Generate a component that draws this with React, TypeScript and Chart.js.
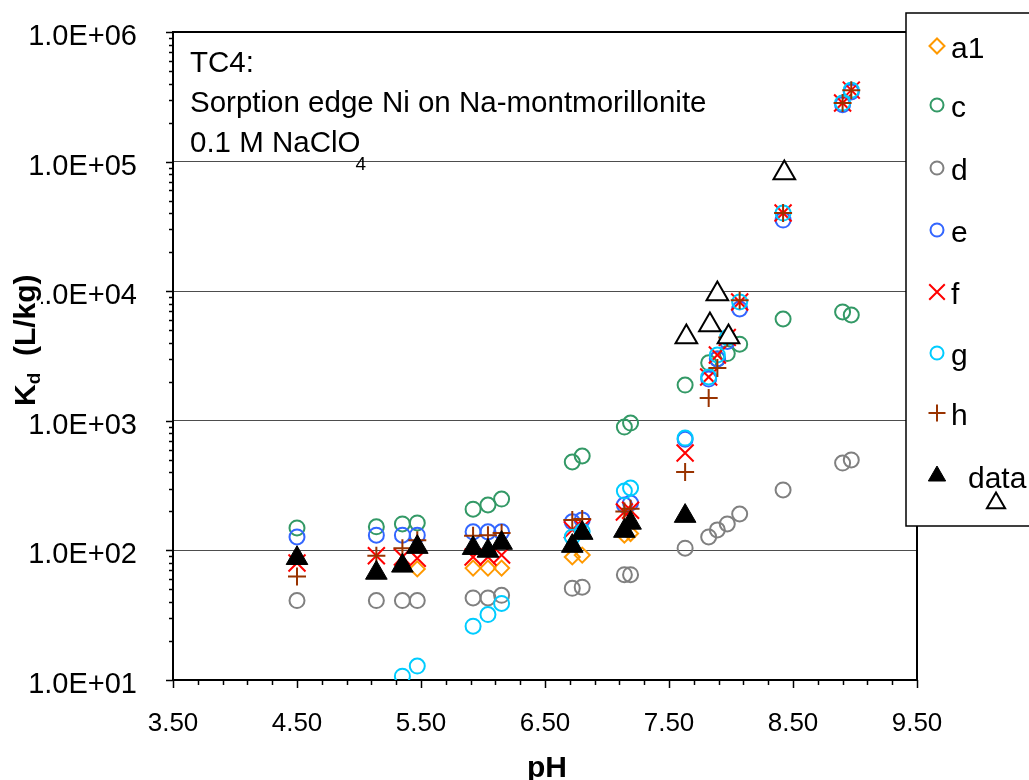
import React, { useEffect, useRef } from 'react';
import { Chart, registerables } from 'chart.js';
import { drawPoint } from 'chart.js/helpers';

Chart.register(...registerables);

// ---------- data ----------
const a1PH = [5.47, 5.92, 6.04, 6.15, 6.72, 6.80, 7.14, 7.19];
const a1Kd = [72, 73, 73, 73, 89, 92, 131, 135];

const cPH = [4.50, 5.14, 5.35, 5.47, 5.92, 6.04, 6.15, 6.72, 6.80, 7.14, 7.19, 7.63, 7.82, 7.89, 7.97, 8.07, 8.42, 8.90, 8.97];
const cKd = [149, 152, 160, 163, 208, 224, 249, 481, 535, 895, 961, 1888, 2800, 3000, 3300, 3900, 6100, 6920, 6550];

const dPH = [4.50, 5.14, 5.35, 5.47, 5.92, 6.04, 6.15, 6.72, 6.80, 7.14, 7.19, 7.63, 7.82, 7.89, 7.97, 8.07, 8.42, 8.90, 8.97];
const dKd = [41, 41, 41, 41, 43, 43, 45, 51, 52, 65, 65, 104, 127, 144, 160, 191, 293, 472, 499];

const ePH = [4.50, 5.14, 5.35, 5.47, 5.92, 6.04, 6.15, 6.72, 6.80, 7.14, 7.19, 7.63, 7.82, 7.89, 7.97, 8.07, 8.42, 8.90, 8.97];
const eKd = [127, 131, 131, 131, 139, 139, 139, 166, 172, 224, 232, 720, 2100, 3000, 4100, 7290, 35400, 275000, 345000];

const fPH = [4.50, 5.14, 5.35, 5.47, 5.92, 6.04, 6.15, 6.72, 6.80, 7.14, 7.19, 7.63, 7.82, 7.89, 7.97, 8.07, 8.42, 8.90, 8.97];
const fKd = [80, 91, 89, 87, 89, 89, 92, 144, 150, 198, 204, 565, 2178, 3221, 4400, 8260, 40100, 283000, 356000];

const gPH = [5.35, 5.47, 5.92, 6.04, 6.15, 6.72, 6.80, 7.14, 7.19, 7.63, 7.82, 7.89, 7.97, 8.07, 8.42, 8.90, 8.97];
const gKd = [10.7, 12.8, 26, 32, 39, 127, 140, 287, 303, 736, 2178, 3221, 4400, 8260, 40100, 283000, 356000];

const hPH = [4.50, 5.14, 5.35, 5.47, 5.92, 6.04, 6.15, 6.72, 6.80, 7.14, 7.19, 7.63, 7.82, 7.89, 7.97, 8.07, 8.42, 8.90, 8.97];
const hKd = [63, 91, 104, 120, 130, 131, 136, 172, 175, 200, 210, 403, 1500, 2553, 4400, 8500, 40100, 283000, 356000];

const dataPH = [4.50, 5.14, 5.35, 5.47, 5.92, 6.04, 6.15, 6.72, 6.80, 7.14, 7.19, 7.63];
const dataKd = [87, 67, 76, 106, 104, 99, 114, 108, 136, 141, 163, 184];

const openPH = [7.64, 7.83, 7.89, 7.98, 8.43];
const openKd = [4436, 5486, 9510, 4436, 81700];

const xMajorTicks = [3.5, 4.5, 5.5, 6.5, 7.5, 8.5, 9.5];
const yMajorTicks = [10, 100, 1000, 10000, 100000, 1000000];

const titleLines = ['TC4:', 'Sorption edge Ni on Na-montmorillonite', '0.1 M NaClO'];

const FONT = '"Liberation Sans", Arial, Helvetica, sans-serif';

type S = {
  label: string; px: number[]; ky: number[]; style: string; r: number;
  border: string; fill: string; bw: number; order: number; legR: number;
};

const series: S[] = [
  { label: 'a1', px: a1PH, ky: a1Kd, style: 'rectRot', r: 7.5, border: '#FF9900', fill: 'rgba(0,0,0,0)', bw: 2, order: 8, legR: 7.5 },
  { label: 'c', px: cPH, ky: cKd, style: 'circle', r: 7.5, border: '#339966', fill: 'rgba(0,0,0,0)', bw: 2, order: 7, legR: 6.5 },
  { label: 'd', px: dPH, ky: dKd, style: 'circle', r: 7.5, border: '#808080', fill: 'rgba(0,0,0,0)', bw: 2, order: 6, legR: 6.5 },
  { label: 'e', px: ePH, ky: eKd, style: 'circle', r: 7.5, border: '#3366FF', fill: 'rgba(0,0,0,0)', bw: 2, order: 5, legR: 6.5 },
  { label: 'f', px: fPH, ky: fKd, style: 'crossRot', r: 12, border: '#FF0000', fill: 'rgba(0,0,0,0)', bw: 2, order: 4, legR: 11 },
  { label: 'g', px: gPH, ky: gKd, style: 'circle', r: 7.5, border: '#00CCFF', fill: 'rgba(0,0,0,0)', bw: 2, order: 3, legR: 6.5 },
  { label: 'h', px: hPH, ky: hKd, style: 'cross', r: 9, border: '#993300', fill: 'rgba(0,0,0,0)', bw: 2, order: 2, legR: 8.5 },
  { label: 'data', px: dataPH, ky: dataKd, style: 'triangle', r: 12.5, border: '#000000', fill: '#000000', bw: 1, order: 1, legR: 10 },
  { label: '', px: openPH, ky: openKd, style: 'triangle', r: 12.5, border: '#000000', fill: '#FFFFFF', bw: 2, order: 0, legR: 10.5 },
];

const legendMarkerY = [46, 105, 168, 230, 292, 353, 413, 476];

const decorPlugin = {
  id: 'decor',
  beforeDraw(chart: any) {
    const ctx = chart.ctx;
    ctx.save();
    ctx.fillStyle = '#FFFFFF';
    ctx.fillRect(0, 0, chart.width, chart.height);
    ctx.restore();
  },
  beforeDatasetsDraw(chart: any) {
    const ctx = chart.ctx;
    const { left, right, top, bottom } = chart.chartArea;
    const xs = chart.scales.x;
    const ys = chart.scales.y;
    ctx.save();
    ctx.strokeStyle = '#000000';
    ctx.lineWidth = 1.5;
    ys.ticks.forEach((t: any) => {
      const y = Math.round(ys.getPixelForValue(t.value)) + 0.5;
      const major = yMajorTicks.some((m) => Math.abs(m - t.value) / m < 1e-6);
      ctx.beginPath();
      ctx.moveTo(left - (major ? 7 : 4), y);
      ctx.lineTo(left, y);
      ctx.stroke();
    });
    xs.ticks.forEach((t: any) => {
      const x = Math.round(xs.getPixelForValue(t.value)) + 0.5;
      const major = xMajorTicks.some((m) => Math.abs(m - t.value) < 1e-6);
      ctx.beginPath();
      ctx.moveTo(x, bottom);
      ctx.lineTo(x, bottom + (major ? 8 : 5));
      ctx.stroke();
    });
    ctx.lineWidth = 2;
    ctx.strokeRect(left, top, right - left, bottom - top);
    ctx.restore();
  },
  afterDraw(chart: any) {
    const ctx = chart.ctx;
    ctx.save();
    // title text box
    ctx.fillStyle = '#000000';
    ctx.font = `29.5px ${FONT}`;
    ctx.textBaseline = 'alphabetic';
    ctx.textAlign = 'left';
    ctx.fillText(titleLines[0], 190, 72);
    ctx.fillText(titleLines[1], 190, 112);
    ctx.fillText(titleLines[2], 190, 152);
    const w3 = ctx.measureText(titleLines[2]).width;
    ctx.font = `19px ${FONT}`;
    ctx.fillText('4', 190 + w3 - 5, 170);

    // axis titles
    ctx.font = `bold 30px ${FONT}`;
    ctx.textAlign = 'center';
    ctx.fillText('pH', 547, 777);

    ctx.save();
    ctx.translate(35, 406);
    ctx.rotate(-Math.PI / 2);
    ctx.textAlign = 'left';
    ctx.font = `bold 30px ${FONT}`;
    const kW = ctx.measureText('K').width;
    ctx.font = `bold 19px ${FONT}`;
    const dW = ctx.measureText('d').width;
    ctx.font = `bold 30px ${FONT}`;
    const restW = ctx.measureText('  (L/kg)').width;
    ctx.fillStyle = '#FFFFFF';
    ctx.fillRect(-2, -25, kW + dW + restW + 4, 31);
    ctx.fillStyle = '#000000';
    ctx.fillText('K', 0, 0);
    ctx.font = `bold 19px ${FONT}`;
    ctx.fillText('d', kW, 5);
    ctx.font = `bold 30px ${FONT}`;
    ctx.fillText('  (L/kg)', kW + dW, 0);
    ctx.restore();

    // legend
    ctx.fillStyle = '#FFFFFF';
    ctx.fillRect(906, 13, 140, 513);
    ctx.strokeStyle = '#000000';
    ctx.lineWidth = 1.5;
    ctx.strokeRect(906, 13, 140, 513);
    series.forEach((s, i) => {
      let mx = 937;
      let my: number;
      if (i < 8) my = legendMarkerY[i];
      else { mx = 996; my = 503; }
      ctx.strokeStyle = s.border;
      ctx.fillStyle = s.fill;
      ctx.lineWidth = s.bw === 1 ? 1 : 2;
      drawPoint(ctx, { pointStyle: s.style, radius: s.legR, rotation: 0, borderWidth: ctx.lineWidth }, mx, my);
      if (s.label) {
        ctx.fillStyle = '#000000';
        ctx.font = `30px ${FONT}`;
        ctx.textAlign = 'left';
        ctx.textBaseline = 'alphabetic';
        const tx = s.label === 'data' ? 968 : 951;
        const ty = s.label === 'data' ? 488 : my + 12;
        ctx.fillText(s.label, tx, ty);
      }
    });
    ctx.restore();
  },
};

export default function App() {
  const ref = useRef<HTMLCanvasElement | null>(null);
  useEffect(() => {
    if (!ref.current) return;
    const chart = new Chart(ref.current, {
      type: 'scatter',
      data: {
        datasets: series.map((s) => ({
          label: s.label,
          data: s.px.map((x, i) => ({ x, y: s.ky[i] })),
          pointStyle: s.style as any,
          pointRadius: s.r,
          pointHoverRadius: s.r,
          pointBorderColor: s.border,
          pointBackgroundColor: s.fill,
          pointBorderWidth: s.bw,
          showLine: false,
          order: s.order,
        })),
      },
      options: {
        animation: false,
        responsive: false,
        maintainAspectRatio: false,
        events: [],
        layout: { padding: { top: 32, right: 112, left: 0, bottom: 0 } },
        plugins: { legend: { display: false }, tooltip: { enabled: false } },
        scales: {
          x: {
            type: 'linear',
            min: 3.5,
            max: 9.5,
            afterBuildTicks: (s: any) => {
              const t = [];
              for (let i = 0; i <= 30; i++) t.push({ value: Math.round((3.5 + i * 0.2) * 100) / 100 });
              s.ticks = t;
            },
            afterFit: (s: any) => {
              s.height = 100;
              s.paddingLeft = 0; s.paddingRight = 0; s.paddingTop = 0; s.paddingBottom = 0;
            },
            grid: { display: false, drawTicks: false },
            border: { display: false },
            ticks: {
              autoSkip: false,
              maxRotation: 0,
              padding: 28,
              color: '#000000',
              font: { family: FONT, size: 26 },
              callback: (v: any) => {
                const m = xMajorTicks.find((t) => Math.abs(t - v) < 1e-6);
                return m !== undefined ? m.toFixed(2) : '';
              },
            },
          },
          y: {
            type: 'logarithmic',
            min: 10,
            max: 1000000,
            afterBuildTicks: (s: any) => {
              const t = [];
              for (let e = 1; e <= 5; e++) {
                for (let m = 1; m <= 9; m++) t.push({ value: m * Math.pow(10, e) });
              }
              t.push({ value: 1000000 });
              s.ticks = t;
            },
            afterFit: (s: any) => {
              s.width = 173;
              s.paddingLeft = 0; s.paddingRight = 0; s.paddingTop = 0; s.paddingBottom = 0;
            },
            grid: {
              drawTicks: false,
              lineWidth: 1,
              color: (c: any) => {
                const v = c.tick ? c.tick.value : 0;
                return yMajorTicks.some((m) => Math.abs(m - v) / m < 1e-6) ? '#4d4d4d' : 'rgba(0,0,0,0)';
              },
            },
            border: { display: false },
            ticks: {
              autoSkip: false,
              padding: 36,
              labelOffset: 5,
              color: '#000000',
              font: { family: FONT, size: 29 },
              callback: (v: any) => {
                const e = Math.round(Math.log10(v));
                if (Math.abs(Math.pow(10, e) - v) / v > 1e-6) return '';
                return '1.0E+' + (e < 10 ? '0' + e : String(e));
              },
            },
          },
        },
      },
      plugins: [decorPlugin],
    });
    return () => chart.destroy();
  }, []);
  return (
    <div style={{ position: 'absolute', left: 0, top: 0, width: 1029, height: 780 }}>
      <canvas ref={ref} width={1029} height={780} style={{ width: 1029, height: 780, display: 'block' }} />
    </div>
  );
}
